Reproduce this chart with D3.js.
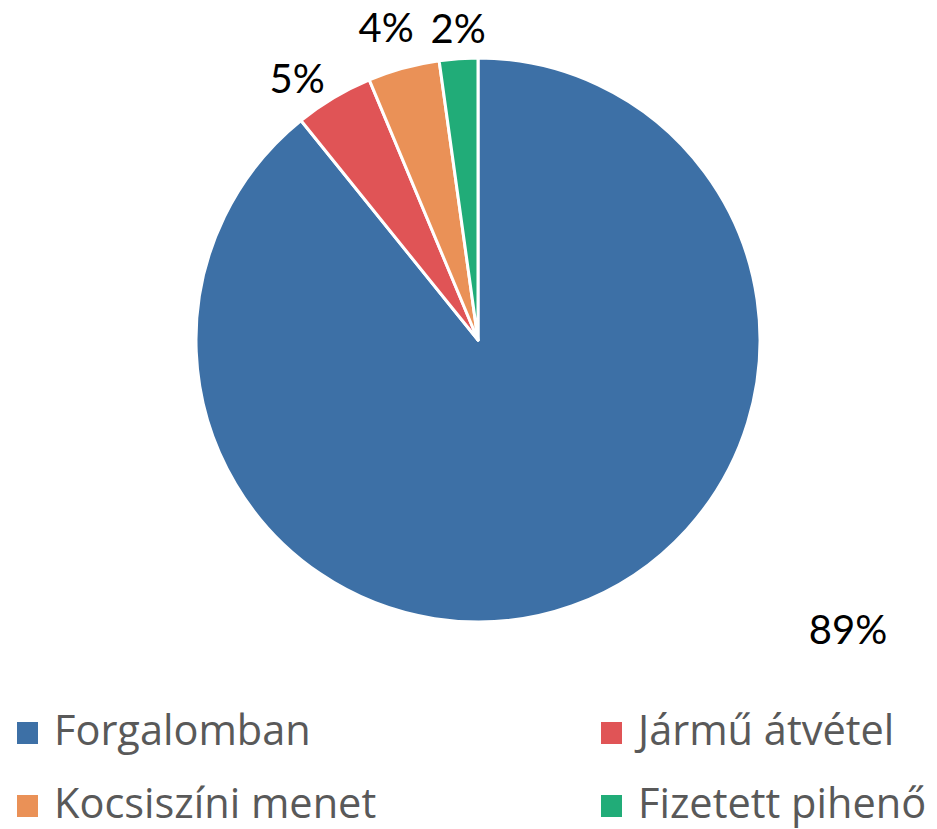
<!DOCTYPE html>
<html>
<head>
<meta charset="utf-8">
<script src="https://cdn.jsdelivr.net/npm/d3@7"></script>
<style>
  body { margin: 0; background: #fff; }
  svg { display: block; }
</style>
</head>
<body>
<svg id="chart" width="937" height="829"></svg>
<script>
// data
const categories = ['Forgalomban', 'Jármű átvétel', 'Kocsiszíni menet', 'Fizetett pihenő'];
const shares = [89.2, 4.5, 4.1, 2.2];
const labels = ['89%', '5%', '4%', '2%'];
const colors = ['#3d70a6', '#e05456', '#ea9157', '#21ac78'];

const width = 937, height = 829;
const cx = 478, cy = 340, radius = 282;

const svg = d3.select('#chart');

const pie = d3.pie().sort(null).value(d => d)(shares);
const arc = d3.arc().innerRadius(0).outerRadius(radius);

const g = svg.append('g').attr('transform', `translate(${cx},${cy})`);

g.selectAll('path.slice')
    .data(pie)
    .enter()
    .append('path')
    .attr('class', 'slice')
    .attr('d', arc)
    .attr('fill', (d, i) => colors[i])
    .attr('stroke', '#fff')
    .attr('stroke-width', 3)
    .attr('stroke-linejoin', 'round');

// label placement: nudge (degrees) off the mid angle and distance from centre
const labelShift = [-32.5, -3.9, -1.1, 0.3];
const labelDist = [470, 318, 325, 312];
const labelPos = (d, i) => {
    let a = (d.startAngle + d.endAngle) / 2 + labelShift[i] * Math.PI / 180;
    return [Math.sin(a) * labelDist[i], -Math.cos(a) * labelDist[i]];
};

g.selectAll('text.pct')
    .data(pie)
    .enter()
    .append('text')
    .attr('class', 'pct')
    .attr('x', (d, i) => labelPos(d, i)[0])
    .attr('y', (d, i) => labelPos(d, i)[1])
    .attr('dy', '0.35em')
    .attr('text-anchor', 'middle')
    .attr('font-family', 'Lato, sans-serif')
    .attr('font-size', 40)
    .attr('fill', '#000')
    .text((d, i) => labels[i]);

// legend, two columns
const item = svg.append('g').selectAll('g.item')
    .data(categories)
    .enter()
    .append('g')
    .attr('class', 'item')
    .attr('transform', (d, i) => `translate(${i % 2 ? 601 : 17},${i < 2 ? 744 : 817})`);

item.append('rect')
    .attr('x', 0)
    .attr('y', -22)
    .attr('width', 21)
    .attr('height', 22)
    .attr('fill', (d, i) => colors[i]);

item.append('text')
    .attr('x', 37)
    .attr('y', 1)
    .attr('font-family', '"Open Sans", sans-serif')
    .attr('font-size', 41.5)
    .attr('fill', '#595959')
    .text(d => d);
</script>
</body>
</html>
